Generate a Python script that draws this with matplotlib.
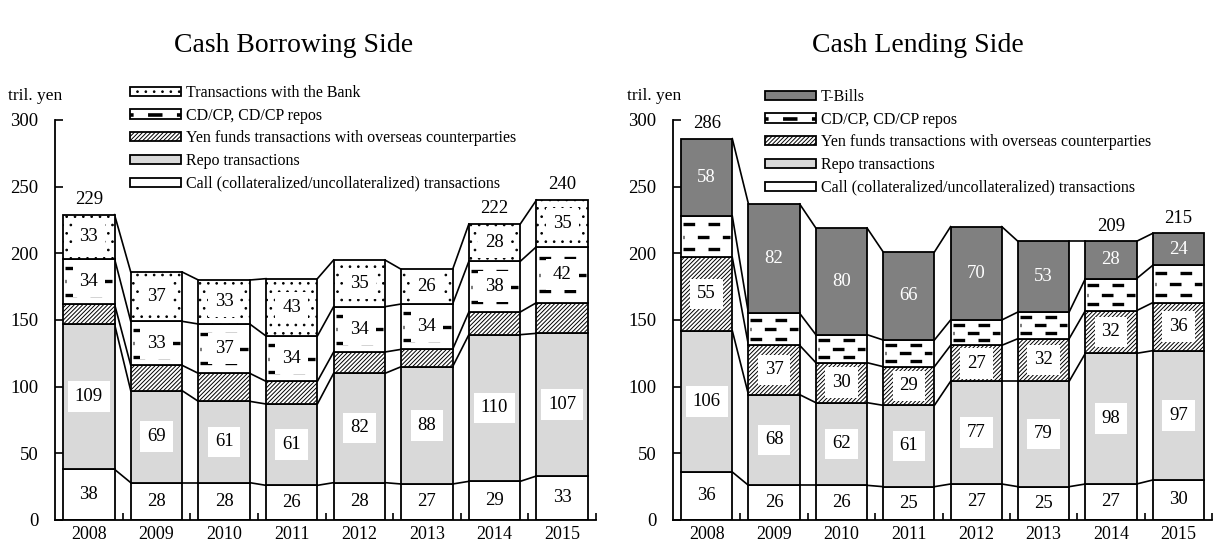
import matplotlib
matplotlib.use('Agg')
import matplotlib.pyplot as plt
from matplotlib.patches import Patch
from matplotlib.lines import Line2D
from matplotlib.legend_handler import HandlerTuple

plt.rcParams['font.family'] = ['Liberation Serif', 'DejaVu Serif']
plt.rcParams['hatch.linewidth'] = 0.7

years = ['2008', '2009', '2010', '2011', '2012', '2013', '2014', '2015']

# Cash Borrowing Side (tril. yen)
b_call = [38, 28, 28, 26, 28, 27, 29, 33]
b_repo = [109, 69, 61, 61, 82, 88, 110, 107]
b_overseas = [15, 19, 21, 17, 16, 13, 17, 23]
b_cdcp = [34, 33, 37, 34, 34, 34, 38, 42]
b_bank = [33, 37, 33, 43, 35, 26, 28, 35]

# Cash Lending Side (tril. yen)
l_call = [36, 26, 26, 25, 27, 25, 27, 30]
l_repo = [106, 68, 62, 61, 77, 79, 98, 97]
l_overseas = [55, 37, 30, 29, 27, 32, 32, 36]
l_cdcp = [31, 24, 21, 20, 19, 20, 24, 28]
l_tbills = [58, 82, 80, 66, 70, 53, 28, 24]

total_years = ['2008', '2014', '2015']

lbl_call = 'Call (collateralized/uncollateralized) transactions'
lbl_repo = 'Repo transactions'
lbl_over = 'Yen funds transactions with overseas counterparties'
lbl_cd = 'CD/CP, CD/CP repos'
lbl_bank = 'Transactions with the Bank'
lbl_tb = 'T-Bills'

W = 1213
H = 547
fig = plt.figure(figsize=(W / 100, H / 100), dpi=100)

BAR_W = 0.76
FS = 13.5

styles = {
    'call': dict(fc='white', hatch=None),
    'repo': dict(fc='#d9d9d9', hatch=None),
    'over': dict(fc='white', hatch='////////'),
    'cd': dict(fc='white', hatch=None),
    'bank': dict(fc='white', hatch='..'),
    'tb': dict(fc='#808080', hatch=None),
}


def draw(ax, series):
    x = list(range(len(years)))
    bottoms = [0] * len(years)
    tops_levels = []
    for key, vals, show in series:
        st = styles[key]
        ax.bar(x, vals, BAR_W, bottom=bottoms, color=st['fc'], edgecolor='black',
               linewidth=1.3, hatch=st['hatch'], zorder=2)
        if key == 'cd':
            for i in x:
                b, h = bottoms[i], vals[i]
                for fr, off in [(0.2, 0), (0.5, 3.2), (0.8, 0)]:
                    ax.plot([i - BAR_W / 2 + 0.03, i + BAR_W / 2 - 0.03], [b + fr * h] * 2,
                            color='black', lw=2.4, linestyle=(off, (3.5, 4)), zorder=3,
                            solid_capstyle='butt', dash_capstyle='butt')
        if show:
            for i in x:
                cy = bottoms[i] + vals[i] / 2
                if key == 'tb':
                    ax.text(i, cy, str(vals[i]), ha='center', va='center', fontsize=FS,
                            color='white', zorder=5)
                else:
                    ax.text(i, cy, str(vals[i]), ha='center', va='center', fontsize=FS,
                            color='black', zorder=5,
                            bbox=dict(facecolor='white', edgecolor='none', pad=5))
        bottoms = [bottoms[i] + vals[i] for i in x]
        tops_levels.append(list(bottoms))
    # series connecting lines
    for lev in tops_levels:
        for i in range(len(x) - 1):
            ax.plot([i + BAR_W / 2, i + 1 - BAR_W / 2], [lev[i], lev[i + 1]],
                    color='black', lw=1.2, zorder=1)
    # totals
    for i, yr in enumerate(years):
        if yr in total_years:
            ax.text(i, bottoms[i] + 5, str(bottoms[i]), ha='center', va='bottom', fontsize=FS)
    ax.set_xlim(-0.5, 7.5)
    ax.set_ylim(0, 300)
    ax.set_yticks(range(0, 301, 50))
    ax.set_xticks(x)
    ax.set_xticklabels(years, fontsize=13)
    ax.set_xticks([i + 0.5 for i in x], minor=True)
    ax.tick_params(axis='x', which='major', length=0, pad=4)
    ax.tick_params(axis='x', which='minor', direction='in', length=5, width=1.2)
    ax.tick_params(axis='y', direction='in', length=6, width=1.2, labelsize=FS, pad=12)
    for s in ['top', 'right']:
        ax.spines[s].set_visible(False)
    for s in ['left', 'bottom']:
        ax.spines[s].set_linewidth(1.3)
    ax.patch.set_visible(False)


ax1 = fig.add_axes([55 / W, 1 - 520 / H, 541 / W, 400 / H])
draw(ax1, [('call', b_call, True), ('repo', b_repo, True), ('over', b_overseas, False),
           ('cd', b_cdcp, True), ('bank', b_bank, True)])

ax2 = fig.add_axes([673 / W, 1 - 520 / H, 539 / W, 400 / H])
draw(ax2, [('call', l_call, True), ('repo', l_repo, True), ('over', l_overseas, True),
           ('cd', l_cdcp, False), ('tb', l_tbills, True)])


def cd_handle():
    return (Patch(facecolor='white', edgecolor='black', linewidth=1.3),
            Line2D([], [], color='black', lw=2.6, linestyle=(3, (4, 4))))


def patch(key):
    st = styles[key]
    return Patch(facecolor=st['fc'], edgecolor='black', linewidth=1.3, hatch=st['hatch'])


leg_kw = dict(loc='upper left', frameon=False, fontsize=11.5, handlelength=3.2,
              handleheight=0.5, labelspacing=0.42, handletextpad=0.3, borderpad=0,
              borderaxespad=0, bbox_transform=fig.transFigure,
              handler_map={tuple: HandlerTuple(ndivide=1, pad=0)})

ax1.legend([patch('bank'), cd_handle(), patch('over'), patch('repo'), patch('call')],
           [lbl_bank, lbl_cd, lbl_over, lbl_repo, lbl_call],
           bbox_to_anchor=(130 / W, 1 - 85 / H), **leg_kw)
ax2.legend([patch('tb'), cd_handle(), patch('over'), patch('repo'), patch('call')],
           [lbl_tb, lbl_cd, lbl_over, lbl_repo, lbl_call],
           bbox_to_anchor=(765 / W, 1 - 89 / H), **leg_kw)

fig.text(8 / W, 1 - 96 / H, 'tril. yen', ha='left', va='center', fontsize=12.5)
fig.text(627 / W, 1 - 96 / H, 'tril. yen', ha='left', va='center', fontsize=12.5)

fig.text(294 / W, 1 - 45 / H, 'Cash Borrowing Side', ha='center', va='center', fontsize=20)
fig.text(918 / W, 1 - 45 / H, 'Cash Lending Side', ha='center', va='center', fontsize=20)

fig.savefig('out.png', dpi=100)
